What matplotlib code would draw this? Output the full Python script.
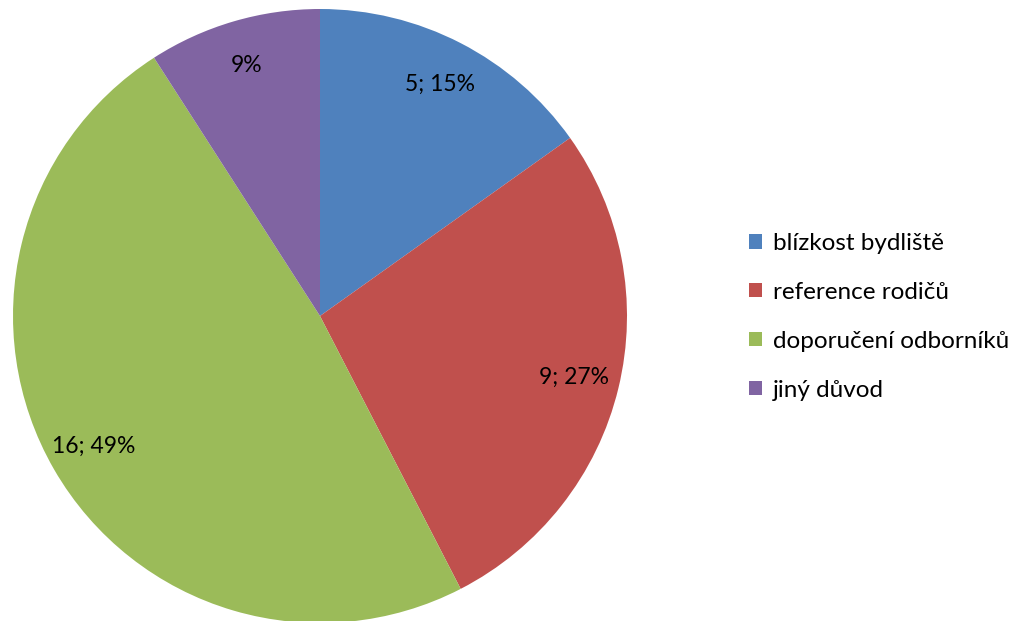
import matplotlib.pyplot as plt
from matplotlib.patches import Patch

plt.rcParams['font.family'] = ['Lato', 'DejaVu Sans']

categories = ['blízkost bydliště', 'reference rodičů', 'doporučení odborníků', 'jiný důvod']
counts = [5, 9, 16, 3]
value_labels = ['5; 15%', '9; 27%', '16; 49%', '9%']
colors = ['#4F81BD', '#C0504D', '#9BBB59', '#8064A2']

fig = plt.figure(figsize=(10.22, 6.21), dpi=100)
# pie centred at (320, 316) px, radius about 307 px
r_px = 307
ax = fig.add_axes([(320 - r_px) / 1022, (305 - r_px) / 621, 2 * r_px / 1022, 2 * r_px / 621])
wedges, texts = ax.pie(counts, colors=colors, startangle=90, counterclock=False,
                       labels=value_labels, labeldistance=0.85, radius=1,
                       wedgeprops=dict(linewidth=0),
                       textprops=dict(fontsize=16.5, color='black', ha='center', va='center'))
for t in texts:
    t.set_horizontalalignment('center')
ax.set_xlim(-1, 1)
ax.set_ylim(-1, 1)
ax.set_aspect('equal')

handles = [Patch(facecolor=c, edgecolor='none') for c in colors]
fig.legend(handles, categories, loc='center left', bbox_to_anchor=(0.711, 0.49),
           frameon=False, fontsize=17.5, handlelength=0.55, handleheight=0.55,
           handletextpad=0.45, labelspacing=1.15)

fig.savefig('out.png', dpi=100)
